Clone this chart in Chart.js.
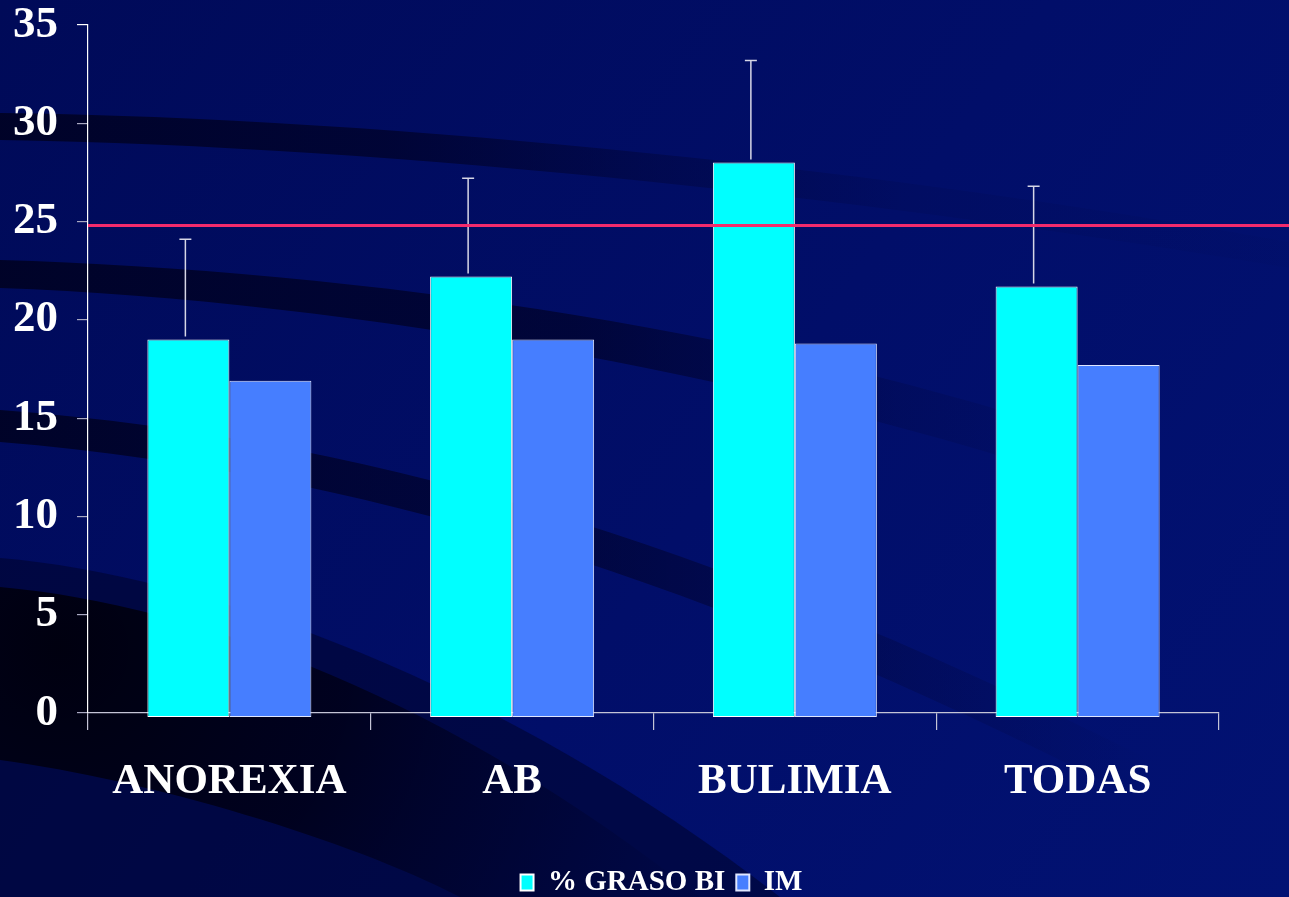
<!DOCTYPE html>
<html>
<head>
<meta charset="utf-8">
<script src="https://cdn.jsdelivr.net/npm/chart.js@4.4.1/dist/chart.umd.min.js"></script>
<style>
  html, body { margin: 0; padding: 0; background: #000b5c; }
  #wrap { width: 1289px; height: 897px; }
</style>
</head>
<body>
<div id="wrap"><canvas id="c" width="1289" height="897"></canvas></div>
<script>
// Body fat by group: bioimpedance (% GRASO BI) with its SD, and IM
const categories = ['ANOREXIA', 'AB', 'BULIMIA', 'TODAS'];
const grasoBI = [19.0, 22.2, 28.0, 21.7];
const grasoBIError = [5.1, 5.0, 5.2, 5.1];
const im = [16.9, 19.0, 18.8, 17.7];
const yTicks = [0, 5, 10, 15, 20, 25, 30, 35];
const referenceLine = 24.8;

const SERIF = "'Liberation Serif', 'Times New Roman', serif";

// Dark navy slide background with sweeping shaded bands
function ribbon(ctx, upper, lower, fill) {
  ctx.beginPath();
  ctx.moveTo(upper[0], upper[1]);
  ctx.bezierCurveTo(upper[2], upper[3], upper[4], upper[5], upper[6], upper[7]);
  ctx.lineTo(lower[6], lower[7]);
  ctx.bezierCurveTo(lower[4], lower[5], lower[2], lower[3], lower[0], lower[1]);
  ctx.closePath();
  ctx.fillStyle = fill;
  ctx.fill();
}

function hFade(ctx, x0, x1, stops) {
  const g = ctx.createLinearGradient(x0, 0, x1, 0);
  stops.forEach(s => g.addColorStop(s[0], s[1]));
  return g;
}

const backdrop = {
  id: 'backdrop',
  beforeDraw(chart) {
    const { ctx, width, height } = chart;
    ctx.save();
    const base = ctx.createLinearGradient(0, 0, width, height);
    base.addColorStop(0, '#000a58');
    base.addColorStop(0.55, '#010e69');
    base.addColorStop(1, '#021273');
    ctx.fillStyle = base;
    ctx.fillRect(0, 0, width, height);

    ribbon(ctx,
      [0, 113, 400, 118, 900, 172, 1289, 242],
      [0, 140, 400, 146, 900, 202, 1289, 268],
      hFade(ctx, 0, 1289, [[0, 'rgba(0,2,36,0.92)'], [0.3, 'rgba(0,2,40,0.75)'], [0.5, 'rgba(0,2,40,0.35)'], [0.7, 'rgba(0,2,40,0.1)'], [1, 'rgba(0,2,40,0.03)']]));

    ribbon(ctx,
      [0, 260, 350, 270, 800, 330, 1150, 460],
      [0, 288, 350, 300, 800, 380, 1150, 505],
      hFade(ctx, 0, 1150, [[0, 'rgba(0,2,36,0.92)'], [0.5, 'rgba(0,2,40,0.7)'], [0.78, 'rgba(0,2,40,0.18)'], [1, 'rgba(0,2,40,0)']]));

    ribbon(ctx,
      [0, 410, 400, 440, 750, 560, 1150, 760],
      [0, 442, 400, 475, 750, 600, 1150, 805],
      hFade(ctx, 0, 1150, [[0, 'rgba(0,2,36,0.92)'], [0.5, 'rgba(0,2,40,0.6)'], [0.8, 'rgba(0,2,40,0.22)'], [1, 'rgba(0,2,40,0)']]));

    // medium tint under the lower-left sweep
    ctx.beginPath();
    ctx.moveTo(0, 558);
    ctx.bezierCurveTo(200, 575, 500, 680, 780, 897);
    ctx.lineTo(0, 897);
    ctx.closePath();
    ctx.fillStyle = 'rgba(0,3,42,0.55)';
    ctx.fill();

    // darkest ribbon of the lower-left sweep, fading away from the corner
    const dark = ctx.createRadialGradient(60, 650, 0, 60, 650, 640);
    dark.addColorStop(0, 'rgba(0,0,14,0.97)');
    dark.addColorStop(0.45, 'rgba(0,0,22,0.8)');
    dark.addColorStop(0.8, 'rgba(0,1,34,0.4)');
    dark.addColorStop(1, 'rgba(0,2,40,0.1)');
    ribbon(ctx,
      [0, 587, 200, 605, 450, 700, 700, 897],
      [0, 760, 150, 780, 350, 840, 460, 897],
      dark);
    ctx.restore();
  }
};

// Upper SD whiskers on the % GRASO BI bars
const errorBars = {
  id: 'errorBars',
  afterDatasetsDraw(chart) {
    const { ctx } = chart;
    const y = chart.scales.y;
    const meta = chart.getDatasetMeta(0);
    ctx.save();
    ctx.strokeStyle = '#d6d6e6';
    ctx.lineWidth = 1.5;
    meta.data.forEach((bar, i) => {
      const top = y.getPixelForValue(grasoBI[i] + grasoBIError[i]);
      const from = y.getPixelForValue(grasoBI[i]) - 3;
      ctx.beginPath();
      ctx.moveTo(bar.x - 3, from);
      ctx.lineTo(bar.x - 3, top);
      ctx.moveTo(bar.x - 9, top);
      ctx.lineTo(bar.x + 3, top);
      ctx.stroke();
    });
    ctx.restore();
  }
};

// Horizontal reference level across the plot
const refLine = {
  id: 'refLine',
  afterDatasetsDraw(chart) {
    const { ctx, chartArea, width } = chart;
    const yPix = chart.scales.y.getPixelForValue(referenceLine);
    ctx.save();
    ctx.strokeStyle = '#f32b6c';
    ctx.lineWidth = 3;
    ctx.beginPath();
    ctx.moveTo(chartArea.left, yPix);
    ctx.lineTo(width, yPix);
    ctx.stroke();
    ctx.restore();
  }
};

// Centre the legend row under the plot area rather than the page
const legendShift = {
  id: 'legendShift',
  afterLayout(chart) {
    if (chart.legend) {
      chart.legend.left += 52;
      chart.legend.right += 52;
    }
  }
};

new Chart(document.getElementById('c'), {
  type: 'bar',
  data: {
    labels: categories,
    datasets: [
      {
        label: '% GRASO BI',
        data: grasoBI,
        backgroundColor: '#00ffff',
        borderColor: '#ffffff',
        borderWidth: 1,
        borderSkipped: false,
        base: -0.2,
        clip: false,
        categoryPercentage: 0.58,
        barPercentage: 1.0
      },
      {
        label: 'IM',
        data: im,
        backgroundColor: '#467eff',
        borderColor: '#dfe6ff',
        borderWidth: 1,
        borderSkipped: false,
        base: -0.2,
        clip: false,
        categoryPercentage: 0.58,
        barPercentage: 1.0
      }
    ]
  },
  options: {
    responsive: false,
    animation: false,
    events: [],
    layout: { padding: { top: 25, right: 70, bottom: -10, left: 0 } },
    scales: {
      x: {
        z: 1,
        offset: true,
        grid: {
          offset: true,
          drawOnChartArea: false,
          drawTicks: true,
          tickLength: 17,
          color: '#c4c4d6',
          lineWidth: 1.2
        },
        border: { display: true, color: '#c4c4d6', width: 1.2 },
        ticks: {
          color: '#ffffff',
          padding: 26,
          maxRotation: 0,
          autoSkip: false,
          font: { family: SERIF, size: 43, weight: 'bold' }
        },
        afterFit(scale) { scale.height = 144; }
      },
      y: {
        min: 0,
        max: 35,
        afterBuildTicks(scale) { scale.ticks = yTicks.map(v => ({ value: v })); },
        grid: {
          drawOnChartArea: false,
          drawTicks: true,
          tickLength: 11,
          color: (c) => (c.tick && c.tick.value === 35 ? '#ffffff' : '#a9a9c2'),
          lineWidth: 1.2
        },
        border: { display: true, color: '#ffffff', width: 1.2 },
        ticks: {
          color: '#ffffff',
          padding: 19,
          font: { family: SERIF, size: 45, weight: 'bold', lineHeight: 1 }
        },
        afterFit(scale) {
          scale.width = 88;
          scale.paddingTop = 0;
          scale.paddingBottom = 0;
        }
      }
    },
    plugins: {
      legend: {
        display: true,
        position: 'bottom',
        labels: {
          color: '#ffffff',
          boxWidth: 13,
          boxHeight: 16,
          padding: 11,
          font: { family: SERIF, size: 29, weight: 'bold' },
          generateLabels(chart) {
            return Chart.defaults.plugins.legend.labels.generateLabels(chart)
              .map(l => Object.assign(l, { lineWidth: 2 }));
          }
        }
      },
      tooltip: { enabled: false },
      title: { display: false }
    }
  },
  plugins: [backdrop, errorBars, refLine, legendShift]
});
</script>
</body>
</html>
